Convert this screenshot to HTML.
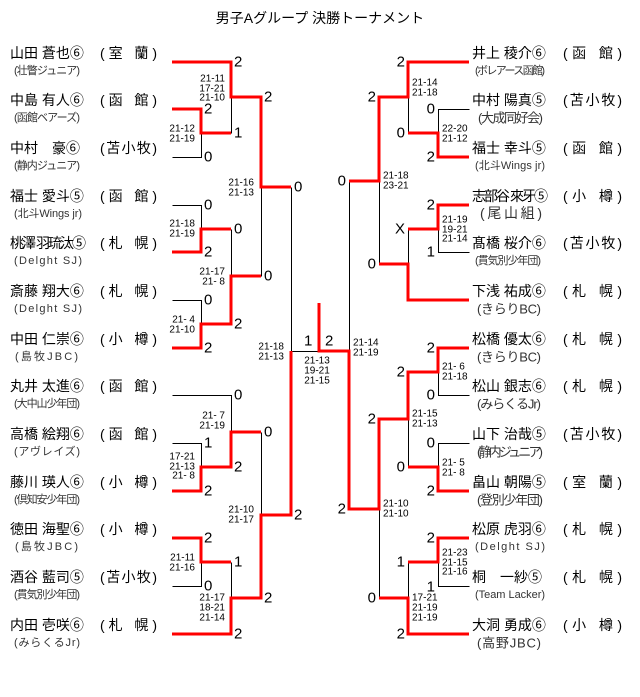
<!DOCTYPE html>
<html><head><meta charset="utf-8"><style>
html,body{margin:0;padding:0;background:#fff;}
svg{display:block;font-family:"Liberation Sans","Noto Sans CJK JP",sans-serif;}
.n{font-size:14px;fill:#000;dominant-baseline:central;}
.c{font-size:11px;fill:#333;dominant-baseline:central;}
.d{font-size:15px;fill:#000;dominant-baseline:central;}
.s{font-size:10px;fill:#000;dominant-baseline:central;}
.r{stroke:#f00;stroke-width:3;fill:none;}
.b{stroke:#000;stroke-width:1;fill:none;shape-rendering:crispEdges;}
</style></head><body>
<svg width="640" height="697" viewBox="0 0 640 697">
<text x="320" y="18" font-size="14" text-anchor="middle" dominant-baseline="central">男子Aグループ 決勝トーナメント</text>
<g class="b" transform="translate(0.5,0.5)">
<path d="M172 157H201V133M231 97V133M172 205H201V229M172 300H201V324M231 229V276M261 187V276M291 187V351H319M172 395H231V432M172 443H201V467M172 586H201V562M231 562V598M261 432V515"/>
<path d="M469 109H438V133M408 97V133M469 252H438V229M408 229V264M379 181V264M349 181V351M469 395H438V372M469 443H438V467M408 419V467M469 586H438V562M408 562V598M379 509V598"/>
</g>
<g class="r">
<path d="M172 62H231V97H261V187H291"/>
<path d="M172 109H201V133H231"/>
<path d="M172 252H201V229H231"/>
<path d="M172 348H201V324H231V276H261"/>
<path d="M172 491H201V467H231V432H261"/>
<path d="M172 538H201V562H231"/>
<path d="M172 634H231V598H261V515H291V351"/>
<path d="M319 303V351H349V509H379V419H408V372H438V348H469"/>
<path d="M469 62H408V97H379V181H349"/>
<path d="M469 157H438V133H408"/>
<path d="M469 205H438V229H408"/>
<path d="M469 300H408V264H379"/>
<path d="M469 491H438V467H408"/>
<path d="M469 538H438V562H408"/>
<path d="M469 634H408V598H379"/>
<path d="M349 509H379"/>
</g>
<g class="d">
<text x="234" y="62">2</text><text x="234" y="133">1</text><text x="204" y="109">2</text><text x="204" y="157">0</text>
<text x="264" y="97">2</text><text x="294" y="187">0</text>
<text x="204" y="205">0</text><text x="204" y="252">2</text><text x="234" y="229">0</text>
<text x="204" y="300">0</text><text x="204" y="348">2</text><text x="234" y="324">2</text><text x="264" y="276">0</text>
<text x="234" y="395">0</text><text x="204" y="443">1</text><text x="204" y="491">2</text><text x="234" y="467">2</text><text x="264" y="432">0</text>
<text x="204" y="538">2</text><text x="204" y="586">0</text><text x="234" y="562">1</text><text x="234" y="634">2</text><text x="264" y="598">2</text><text x="294" y="515">2</text>
<text x="304" y="341">1</text><text x="325" y="341">2</text>
</g>
<g class="d" text-anchor="end">
<text x="405" y="62">2</text><text x="376" y="97">2</text><text x="435" y="109">0</text><text x="435" y="157">2</text><text x="405" y="133">0</text><text x="346" y="181">0</text>
<text x="435" y="205">2</text><text x="435" y="252">1</text><text x="405" y="229">X</text><text x="376" y="264">0</text>
<text x="435" y="348">2</text><text x="435" y="395">0</text><text x="405" y="372">2</text><text x="435" y="443">0</text><text x="435" y="491">2</text><text x="405" y="467">0</text><text x="376" y="419">2</text><text x="346" y="509">2</text>
<text x="435" y="538">2</text><text x="435" y="587">1</text><text x="405" y="562">1</text><text x="405" y="634">2</text><text x="376" y="598">0</text>
</g>
<g class="s" text-anchor="end">
<text x="225" y="79">21-11</text><text x="225" y="89">17-21</text><text x="225" y="98">21-10</text>
<text x="195" y="129">21-12</text><text x="195" y="139">21-19</text>
<text x="254" y="183">21-16</text><text x="254" y="193">21-13</text>
<text x="195" y="224">21-18</text><text x="195" y="234">21-19</text>
<text x="225" y="272">21-17</text><text x="225" y="282">21- 8</text>
<text x="195" y="320">21- 4</text><text x="195" y="330">21-10</text>
<text x="284" y="347">21-18</text><text x="284" y="357">21-13</text>
<text x="225" y="416">21- 7</text><text x="225" y="426">21-19</text>
<text x="195" y="457">17-21</text><text x="195" y="467">21-13</text><text x="195" y="476">21- 8</text>
<text x="254" y="510">21-10</text><text x="254" y="520">21-17</text>
<text x="195" y="558">21-11</text><text x="195" y="568">21-16</text>
<text x="225" y="598">21-17</text><text x="225" y="608">18-21</text><text x="225" y="618">21-14</text>
</g>
<g class="s" text-anchor="middle">
<text x="317" y="361">21-13</text><text x="317" y="371">19-21</text><text x="317" y="381">21-15</text>
</g>
<g class="s">
<text x="412" y="83">21-14</text><text x="412" y="93">21-18</text>
<text x="442" y="129">22-20</text><text x="442" y="139">21-12</text>
<text x="383" y="176">21-18</text><text x="383" y="186">23-21</text>
<text x="442" y="220">21-19</text><text x="442" y="230">19-21</text><text x="442" y="239">21-14</text>
<text x="353" y="343">21-14</text><text x="353" y="353">21-19</text>
<text x="442" y="367">21- 6</text><text x="442" y="377">21-18</text>
<text x="412" y="414">21-15</text><text x="412" y="424">21-13</text>
<text x="442" y="463">21- 5</text><text x="442" y="473">21- 8</text>
<text x="383" y="504">21-10</text><text x="383" y="514">21-10</text>
<text x="442" y="553">21-23</text><text x="442" y="563">21-15</text><text x="442" y="572">21-16</text>
<text x="412" y="598">17-21</text><text x="412" y="608">21-19</text><text x="412" y="618">21-19</text>
</g>
<g class="n">
<text x="10" y="53">山田 蒼也⑥</text><text x="100" y="53" textLength="57">(室 蘭)</text>
<text x="10" y="100">中島 有人⑥</text><text x="100" y="100" textLength="57">(函 館)</text>
<text x="10" y="148">中村　豪⑥</text><text x="100" y="148" textLength="57">(苫小牧)</text>
<text x="10" y="196">福士 愛斗⑤</text><text x="100" y="196" textLength="57">(函 館)</text>
<text x="10" y="243" textLength="76">桃澤 羽琉汰⑤</text><text x="100" y="243" textLength="57">(札 幌)</text>
<text x="10" y="291">斎藤 翔大⑥</text><text x="100" y="291" textLength="57">(札 幌)</text>
<text x="10" y="339">中田 仁崇⑥</text><text x="100" y="339" textLength="57">(小 樽)</text>
<text x="10" y="386">丸井 太進⑥</text><text x="100" y="386" textLength="57">(函 館)</text>
<text x="10" y="434">高橋 絵翔⑥</text><text x="100" y="434" textLength="57">(函 館)</text>
<text x="10" y="482">藤川 瑛人⑥</text><text x="100" y="482" textLength="57">(小 樽)</text>
<text x="10" y="529">徳田 海聖⑥</text><text x="100" y="529" textLength="57">(小 樽)</text>
<text x="10" y="577">酒谷 藍司⑤</text><text x="100" y="577" textLength="57">(苫小牧)</text>
<text x="10" y="625">内田 壱咲⑥</text><text x="100" y="625" textLength="57">(札 幌)</text>
</g>
<g class="c">
<text x="14" y="71" textLength="66">(壮瞥ジュニア)</text>
<text x="14" y="118" textLength="66">(函館ベアーズ)</text>
<text x="14" y="166" textLength="66">(静内ジュニア)</text>
<text x="14" y="214" textLength="68">(北斗Wings jr)</text>
<text x="14" y="261" textLength="68">(Delght SJ)</text>
<text x="14" y="309" textLength="68">(Delght SJ)</text>
<text x="15" y="357" textLength="63">(島牧JBC)</text>
<text x="14" y="404" textLength="66">(大中山少年団)</text>
<text x="14" y="452" textLength="66">(アヴレイズ)</text>
<text x="14" y="500" textLength="66">(倶知安少年団)</text>
<text x="15" y="547" textLength="63">(島牧JBC)</text>
<text x="14" y="595" textLength="66">(貫気別少年団)</text>
<text x="14" y="643" textLength="66">(みらくるJr)</text>
</g>
<g class="n">
<text x="472" y="53">井上 稜介⑥</text><text x="563" y="53" textLength="59">(函 館)</text>
<text x="472" y="100">中村 陽真⑤</text><text x="563" y="100" textLength="59">(苫小牧)</text>
<text x="472" y="148">福士 幸斗⑤</text><text x="563" y="148" textLength="59">(函 館)</text>
<text x="472" y="196" textLength="76">志部谷 來牙⑤</text><text x="563" y="196" textLength="59">(小 樽)</text>
<text x="472" y="243">髙橋 桜介⑥</text><text x="563" y="243" textLength="59">(苫小牧)</text>
<text x="472" y="291">下浅 祐成⑥</text><text x="563" y="291" textLength="59">(札 幌)</text>
<text x="472" y="339">松橋 優太⑥</text><text x="563" y="339" textLength="59">(札 幌)</text>
<text x="472" y="386">松山 銀志⑥</text><text x="563" y="386" textLength="59">(札 幌)</text>
<text x="472" y="434">山下 治哉⑤</text><text x="563" y="434" textLength="59">(苫小牧)</text>
<text x="472" y="482">畠山 朝陽⑤</text><text x="563" y="482" textLength="59">(室 蘭)</text>
<text x="472" y="529">松原 虎羽⑥</text><text x="563" y="529" textLength="59">(札 幌)</text>
<text x="472" y="577">桐　一紗⑤</text><text x="563" y="577" textLength="59">(札 幌)</text>
<text x="472" y="625">大洞 勇成⑥</text><text x="563" y="625" textLength="59">(小 樽)</text>
</g>
<g class="c">
<text x="475" y="71" textLength="70">(ボレアース函館)</text>
<text x="478" y="118" textLength="65" font-size="13">(大成同好会)</text>
<text x="475" y="166" textLength="70">(北斗Wings jr)</text>
<text x="480" y="213" textLength="62" font-size="14">(尾山組)</text>
<text x="475" y="261" textLength="66">(貫気別少年団)</text>
<text x="477" y="309" textLength="64" font-size="13">(きらりBC)</text>
<text x="477" y="357" textLength="64" font-size="13">(きらりBC)</text>
<text x="477" y="404" textLength="64" font-size="13">(みらくるJr)</text>
<text x="477" y="452" textLength="66" font-size="13">(静内ジュニア)</text>
<text x="477" y="500" textLength="66" font-size="13">(登別少年団)</text>
<text x="475" y="547" textLength="70">(Delght SJ)</text>
<text x="475" y="595" textLength="70">(Team Lacker)</text>
<text x="477" y="643" textLength="64" font-size="13">(高野JBC)</text>
</g>
</svg>
</body></html>
